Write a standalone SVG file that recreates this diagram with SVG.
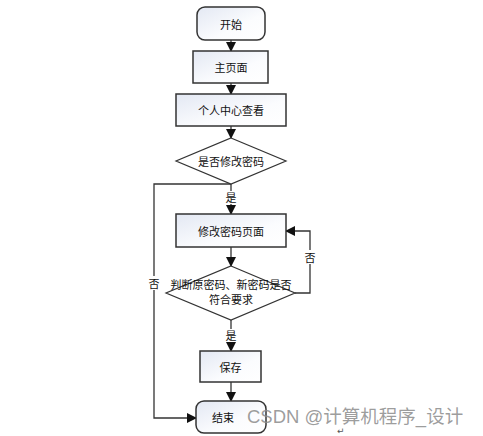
<svg xmlns="http://www.w3.org/2000/svg" width="483" height="436" viewBox="0 0 483 436">
<defs>
<linearGradient id="g" x1="0" y1="0" x2="1" y2="1">
<stop offset="0" stop-color="#e3e8f3"/>
<stop offset="0.6" stop-color="#fbfcfe"/>
<stop offset="1" stop-color="#ffffff"/>
</linearGradient>
<marker id="ah" markerWidth="10" markerHeight="10" refX="9" refY="5" orient="auto" markerUnits="userSpaceOnUse">
<path d="M0,0 L10,5 L0,10 Z" fill="#111"/>
</marker>
<style>
.n{fill:url(#g);stroke:#333;stroke-width:1.5}
.d{fill:#fff;stroke:#333;stroke-width:1.2}
.t{font-family:"Noto Sans CJK SC","Liberation Sans",sans-serif;font-size:11px;fill:#111;text-anchor:middle;dominant-baseline:central}
.c{fill:none;stroke:#333;stroke-width:1.3}
</style>
</defs>
<rect width="483" height="436" fill="#fff"/>
<g id="connectors">
<line class="c" x1="231" y1="40" x2="231" y2="51" marker-end="url(#ah)"/>
<line class="c" x1="231" y1="83" x2="231" y2="94" marker-end="url(#ah)"/>
<line class="c" x1="231" y1="126" x2="231" y2="138" marker-end="url(#ah)"/>
<line class="c" x1="231" y1="184" x2="231" y2="214" marker-end="url(#ah)"/>
<rect x="224" y="191" width="14" height="13" fill="#fff"/>
<text class="t" x="231" y="197">是</text>
<line class="c" x1="231" y1="247" x2="231" y2="266" marker-end="url(#ah)"/>
<line class="c" x1="231" y1="320" x2="231" y2="351" marker-end="url(#ah)"/>
<rect x="224" y="329" width="14" height="13" fill="#fff"/>
<text class="t" x="231" y="335">是</text>
<line class="c" x1="231" y1="382" x2="231" y2="401" marker-end="url(#ah)"/>
<polyline class="c" points="295,293 310,293 310,231 286,231" marker-end="url(#ah)"/>
<rect x="303" y="250" width="14" height="14" fill="#fff"/>
<text class="t" x="310" y="257">否</text>
<polyline class="c" points="231,184 154,184 154,418 196,418" marker-end="url(#ah)"/>
<rect x="147" y="276" width="14" height="14" fill="#fff"/>
<text class="t" x="154" y="283">否</text>
</g>
<g id="start"><rect class="n" x="197" y="7" width="68" height="33" rx="8"/><text class="t" x="231" y="23.5">开始</text></g>
<g id="main"><rect class="n" x="193" y="51" width="75" height="32"/><text class="t" x="231" y="67">主页面</text></g>
<g id="center"><rect class="n" x="176" y="94" width="110" height="32"/><text class="t" x="231" y="110">个人中心查看</text></g>
<g id="q1"><polygon class="d" points="231,138 286,161 231,184 176,161"/><text class="t" x="231" y="161">是否修改密码</text></g>
<g id="pwd"><rect class="n" x="176" y="214" width="110" height="33"/><text class="t" x="231" y="230.5">修改密码页面</text></g>
<g id="q2"><polygon class="d" points="231,266 295,293 231,320 166,293"/><text class="t" x="231" y="284">判断原密码、新密码是否</text><text class="t" x="231" y="299">符合要求</text></g>
<g id="save"><rect class="n" x="200" y="351" width="61" height="31"/><text class="t" x="230.5" y="366.5">保存</text></g>
<g id="end"><rect class="n" x="196" y="401" width="70" height="32" rx="8"/><text class="t" x="223" y="417">结束</text></g>
<text x="247" y="423" font-family="'Liberation Sans','Noto Sans CJK SC',sans-serif" font-size="18.5" fill="#8c8c8c" fill-opacity="0.85">CSDN @计算机程序_设计</text>
<text x="337" y="434" font-family="'DejaVu Sans',sans-serif" font-size="9" fill="#555">↵</text>
</svg>
